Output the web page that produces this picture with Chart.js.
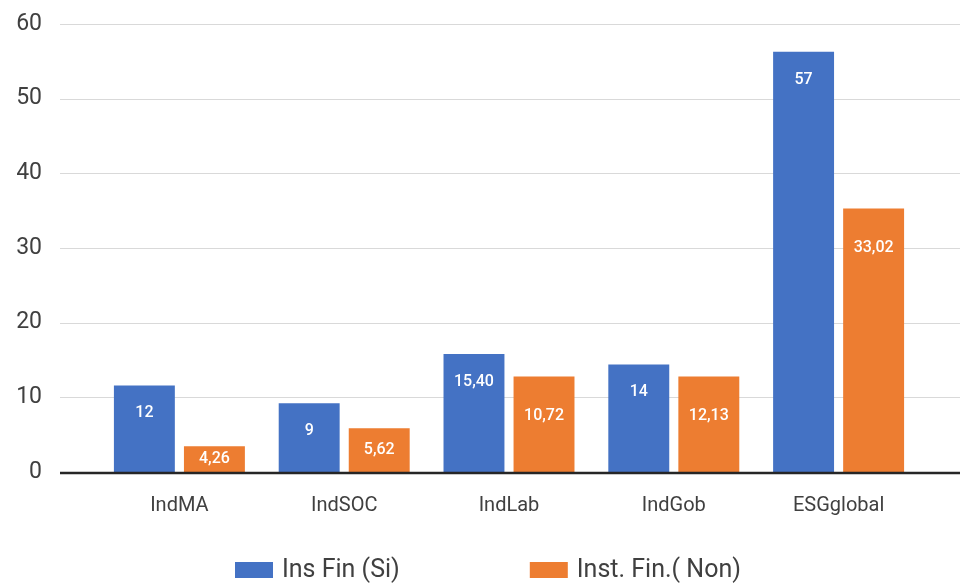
<!DOCTYPE html>
<html>
<head>
<meta charset="utf-8">
<script src="https://cdn.jsdelivr.net/npm/chart.js@4.4.0/dist/chart.umd.min.js"></script>
<style>
  html, body { margin: 0; padding: 0; background: #fff; }
</style>
</head>
<body>
<canvas id="chart" width="960" height="583"></canvas>
<script>
// datos
const categories = ["IndMA", "IndSOC", "IndLab", "IndGob", "ESGglobal"];
const seriesNames = ["Ins Fin (Si)", "Inst. Fin.( Non)"];
const siValues = [11.6, 9.2, 15.8, 14.4, 56.3];
const nonValues = [3.45, 5.85, 12.8, 12.8, 35.3];
const siLabels = ["12", "9", "15,40", "14", "57"];
const nonLabels = ["4,26", "5,62", "10,72", "12,13", "33,02"];
const yTicks = [0, 10, 20, 30, 40, 50, 60];

const BLUE = "#4472C4";
const ORANGE = "#ED7D31";
const TEXT = "#404040";
const FONT = "Roboto";

// lineas de la cuadricula a todo el ancho
const gridPlugin = {
  id: "gridFull",
  beforeDatasetsDraw(chart) {
    const ctx = chart.ctx;
    const y = chart.scales.y;
    ctx.save();
    ctx.strokeStyle = "#d9d9d9";
    ctx.lineWidth = 1.2;
    y.ticks.forEach((t) => {
      if (t.value === 0) return;
      const py = Math.round(y.getPixelForValue(t.value)) + 0.5;
      ctx.beginPath();
      ctx.moveTo(60, py);
      ctx.lineTo(chart.width, py);
      ctx.stroke();
    });
    ctx.restore();
  },
  afterDatasetsDraw(chart) {
    // eje del cero
    const ctx = chart.ctx;
    const py = chart.scales.y.getPixelForValue(0);
    ctx.save();
    ctx.strokeStyle = "#262626";
    ctx.lineWidth = 2.5;
    ctx.beginPath();
    ctx.moveTo(60, py + 1);
    ctx.lineTo(chart.width, py + 1);
    ctx.stroke();
    ctx.restore();
  },
};

// etiquetas blancas dentro de las barras
const barLabelPlugin = {
  id: "barLabels",
  afterDatasetsDraw(chart, args, opts) {
    const ctx = chart.ctx;
    ctx.save();
    ctx.fillStyle = "#fff";
    ctx.font = "500 16px " + FONT;
    ctx.textAlign = "center";
    ctx.textBaseline = "middle";
    chart.data.datasets.forEach((ds, d) => {
      const meta = chart.getDatasetMeta(d);
      meta.data.forEach((bar, i) => {
        const cy = Math.min(bar.y + opts.offsets[d], (bar.y + bar.base) / 2);
        ctx.fillText(opts.texts[d][i], bar.x, cy);
      });
    });
    ctx.restore();
  },
};

// leyenda abajo
const legendPlugin = {
  id: "bottomLegend",
  afterDraw(chart, args, opts) {
    const ctx = chart.ctx;
    ctx.save();
    ctx.font = "25px " + FONT;
    ctx.textBaseline = "middle";
    let x = opts.startX;
    chart.data.datasets.forEach((ds) => {
      ctx.fillStyle = ds.backgroundColor;
      ctx.fillRect(x, opts.y - 8, 38, 16);
      ctx.fillStyle = TEXT;
      ctx.fillText(ds.label, x + 47, opts.y + 1);
      x += 47 + ctx.measureText(ds.label).width + opts.gap;
    });
    ctx.restore();
  },
};

new Chart(document.getElementById("chart"), {
  type: "bar",
  data: {
    labels: categories,
    datasets: [
      { label: seriesNames[0], data: siValues, backgroundColor: BLUE },
      { label: seriesNames[1], data: nonValues, backgroundColor: ORANGE },
    ],
  },
  options: {
    responsive: false,
    animation: false,
    categoryPercentage: 0.85,
    barPercentage: 0.87,
    layout: { padding: { left: 17, right: 39, top: 24, bottom: 67 } },
    plugins: {
      legend: { display: false },
      tooltip: { enabled: false },
      barLabels: { texts: [siLabels, nonLabels], offsets: [28, 40] },
      bottomLegend: { startX: 235, y: 570, gap: 130 },
    },
    scales: {
      x: {
        afterFit: (s) => { s.height = 44; },
        grid: { display: false, drawTicks: false },
        border: { display: false },
        ticks: { color: TEXT, font: { family: FONT, size: 20 }, padding: 22 },
      },
      y: {
        min: 0,
        max: 60,
        afterBuildTicks: (s) => { s.ticks = yTicks.map((v) => ({ value: v })); },
        afterFit: (s) => {
          s.width = 80;
          s.paddingTop = 12;
          s.paddingBottom = 12;
        },
        grid: { display: false, drawTicks: false },
        border: { display: false },
        ticks: { color: TEXT, font: { family: FONT, size: 23 }, padding: 55 },
      },
    },
  },
  plugins: [gridPlugin, barLabelPlugin, legendPlugin],
});
</script>
</body>
</html>
